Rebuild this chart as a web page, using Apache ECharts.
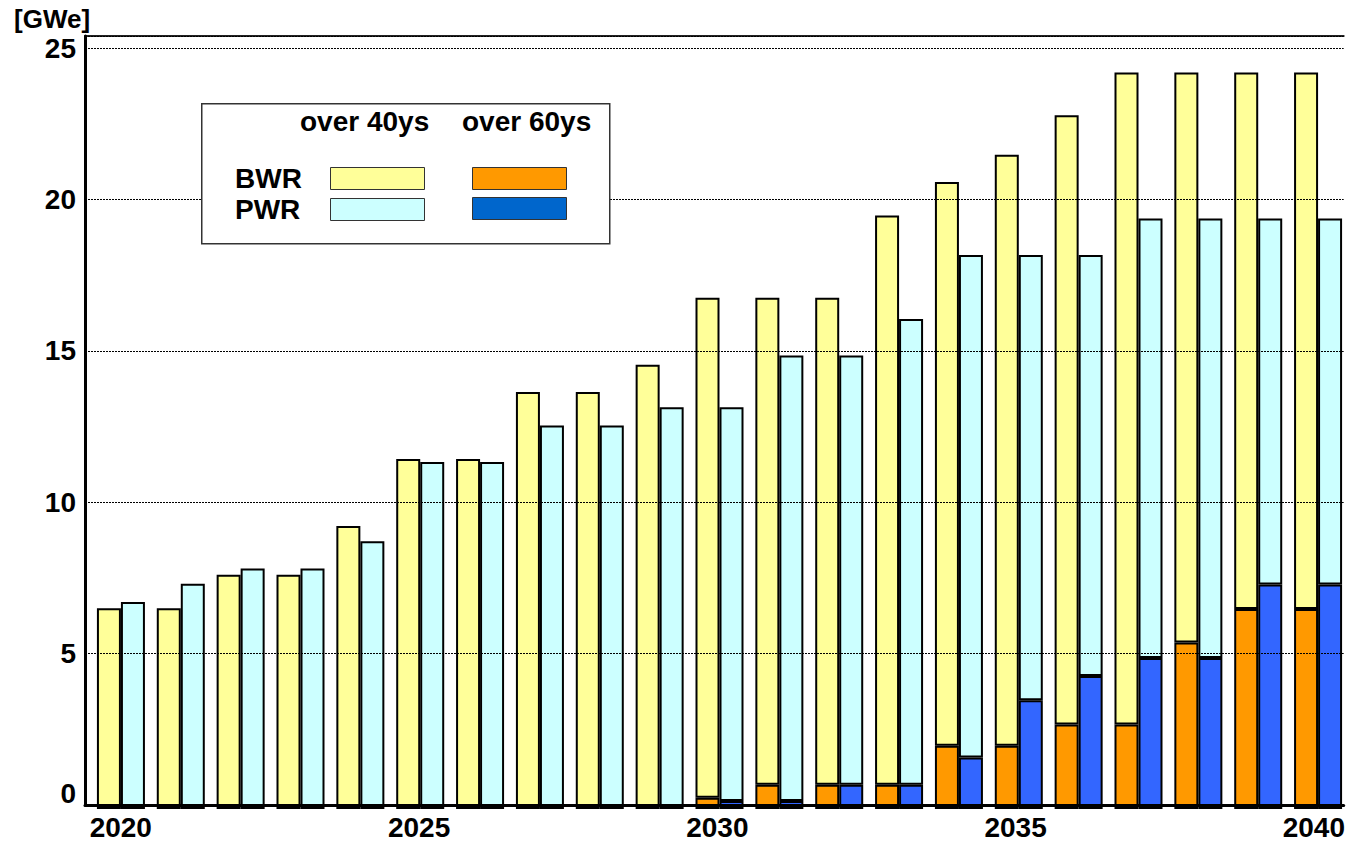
<!DOCTYPE html>
<html>
<head>
<meta charset="utf-8">
<script src="https://cdn.jsdelivr.net/npm/echarts@6/dist/echarts.min.js"></script>
<style>
  html, body { margin: 0; padding: 0; background: #fff; }
  #chart { width: 1348px; height: 841px; }
</style>
</head>
<body>
<div id="chart"></div>
<script>
// ---- data (GWe) ----
const years = [2020,2021,2022,2023,2024,2025,2026,2027,2028,2029,2030,2031,2032,2033,2034,2035,2036,2037,2038,2039,2040];
const bwrTotal = [6.6,6.6,7.7,7.7,9.3,11.5,11.5,13.7,13.7,14.6,16.8,16.8,16.8,19.5,20.6,21.5,22.8,24.2,24.2,24.2,24.2];
const pwrTotal = [6.8,7.4,7.9,7.9,8.8,11.4,11.4,12.6,12.6,13.2,13.2,14.9,14.9,16.1,18.2,18.2,18.2,19.4,19.4,19.4,19.4];
const bwrOver60 = [0,0,0,0,0,0,0,0,0,0,0.37,0.8,0.8,0.8,2.08,2.08,2.78,2.78,5.47,6.57,6.57];
const pwrOver60 = [0,0,0,0,0,0,0,0,0,0,0.26,0.26,0.8,0.8,1.69,3.57,4.37,4.96,4.96,7.38,7.38];
const yTicks = [0,5,10,15,20,25];
const xTickLabels = [2020,2025,2030,2035,2040];
const unitLabel = '[GWe]';
const colHeaders = ['over 40ys', 'over 60ys'];
const rowHeaders = ['BWR', 'PWR'];

const bwrOver40 = bwrTotal.map((v, i) => +(v - bwrOver60[i]).toFixed(2));
const pwrOver40 = pwrTotal.map((v, i) => +(v - pwrOver60[i]).toFixed(2));
const noZero = (arr) => arr.map((v) => (v === 0 ? '-' : v));
const yearLabels = years.map(String);

const FONT = 'Liberation Sans';
const Y_MAX = 25.4;
const chart = echarts.init(document.getElementById('chart'), null, { renderer: 'svg' });

const barBase = {
  type: 'bar',
  xAxisIndex: 2,
  yAxisIndex: 1,
  barWidth: 24,
  barGap: '0%',
  emphasis: { disabled: true },
  animation: false
};

const legendCommon = {
  icon: 'rect',
  itemWidth: 94,
  itemHeight: 22,
  selectedMode: false,
  formatter: () => '',
  textStyle: { fontSize: 1 },
  padding: 0,
  z: 20
};

chart.setOption({
  animation: false,
  grid: [
    { left: 85, right: 0, top: 36, bottom: 32, containLabel: false },
    { left: 91, right: 0, top: 36, bottom: 32, containLabel: false }
  ],
  title: {
    text: unitLabel,
    left: 9, top: 1,
    textStyle: { fontFamily: FONT, fontWeight: 'bold', fontSize: 26, color: '#000' }
  },
  xAxis: [{
    type: 'value',
    gridIndex: 0,
    min: 2019.4,
    max: 2040.5,
    axisLine: { show: true, lineStyle: { color: '#000', width: 3 } },
    axisTick: { show: false },
    splitLine: { show: false },
    axisLabel: {
      customValues: xTickLabels,
      formatter: (v) => String(v),
      fontFamily: FONT, fontWeight: 'bold', fontSize: 28, color: '#000',
      margin: 8
    },
    z: 5
  }, {
    type: 'value',
    gridIndex: 0,
    position: 'top',
    min: 2019.4,
    max: 2040.5,
    axisLine: { show: true, onZero: false, lineStyle: { color: '#222', width: 2 } },
    axisTick: { show: false },
    splitLine: { show: false },
    axisLabel: { show: false }
  }, {
    type: 'category',
    gridIndex: 1,
    data: yearLabels,
    show: false
  }],
  yAxis: [{
    type: 'value',
    gridIndex: 0,
    min: 0,
    max: Y_MAX,
    interval: 5,
    axisLine: { show: true, lineStyle: { color: '#000', width: 3 } },
    axisTick: { show: false },
    splitLine: { show: true, lineStyle: { color: '#000', width: 1.2, type: [2, 1] } },
    axisLabel: {
      showMaxLabel: false,
      fontFamily: FONT, fontWeight: 'bold', fontSize: 28, color: '#000',
      margin: 9,
      formatter: (v) => {
        if (!yTicks.includes(v)) return '';
        return v === 0 ? '{z|0}' : String(v);
      },
      rich: {
        z: { fontFamily: FONT, fontWeight: 'bold', fontSize: 28, color: '#000', padding: [0, 0, 24, 0] }
      }
    },
    z: 5
  }, {
    type: 'value',
    gridIndex: 1,
    min: 0,
    max: Y_MAX,
    show: false,
    splitLine: { show: false }
  }],
  legend: [
    Object.assign({}, legendCommon, { left: 330, top: 167, data: [{ name: 'BWR over 40ys', itemStyle: { color: '#FFFF99', borderColor: '#333', borderWidth: 1 } }] }),
    Object.assign({}, legendCommon, { left: 472, top: 167, data: [{ name: 'BWR over 60ys', itemStyle: { color: '#FF9900', borderColor: '#333', borderWidth: 1 } }] }),
    Object.assign({}, legendCommon, { left: 330, top: 198, data: [{ name: 'PWR over 40ys', itemStyle: { color: '#CCFFFF', borderColor: '#333', borderWidth: 1 } }] }),
    Object.assign({}, legendCommon, { left: 472, top: 197, data: [{ name: 'PWR over 60ys', itemStyle: { color: '#0066CC', borderColor: '#333', borderWidth: 1 } }] })
  ],
  graphic: [
    { type: 'rect', left: 201, top: 103, z: 10, shape: { width: 408, height: 140 }, style: { fill: '#fff', stroke: '#333', lineWidth: 1.5 } },
    { type: 'text', left: 300, top: 107, z: 11, style: { text: colHeaders[0], fill: '#000', font: 'bold 28px "' + FONT + '"' } },
    { type: 'text', left: 462, top: 107, z: 11, style: { text: colHeaders[1], fill: '#000', font: 'bold 28px "' + FONT + '"' } },
    { type: 'text', left: 235, top: 164, z: 11, style: { text: rowHeaders[0], fill: '#000', font: 'bold 28px "' + FONT + '"' } },
    { type: 'text', left: 235, top: 195, z: 11, style: { text: rowHeaders[1], fill: '#000', font: 'bold 28px "' + FONT + '"' } }
  ],
  series: [
    Object.assign({}, barBase, { name: 'BWR over 60ys', stack: 'bwr', data: noZero(bwrOver60), itemStyle: { color: '#FF9900', borderColor: '#000', borderWidth: 2 } }),
    Object.assign({}, barBase, { name: 'BWR over 40ys', stack: 'bwr', data: bwrOver40, itemStyle: { color: '#FFFF99', borderColor: '#000', borderWidth: 2 } }),
    Object.assign({}, barBase, { name: 'PWR over 60ys', stack: 'pwr', data: noZero(pwrOver60), itemStyle: { color: '#3366FF', borderColor: '#000', borderWidth: 2 } }),
    Object.assign({}, barBase, { name: 'PWR over 40ys', stack: 'pwr', data: pwrOver40, itemStyle: { color: '#CCFFFF', borderColor: '#000', borderWidth: 2 } })
  ]
});
</script>
</body>
</html>
